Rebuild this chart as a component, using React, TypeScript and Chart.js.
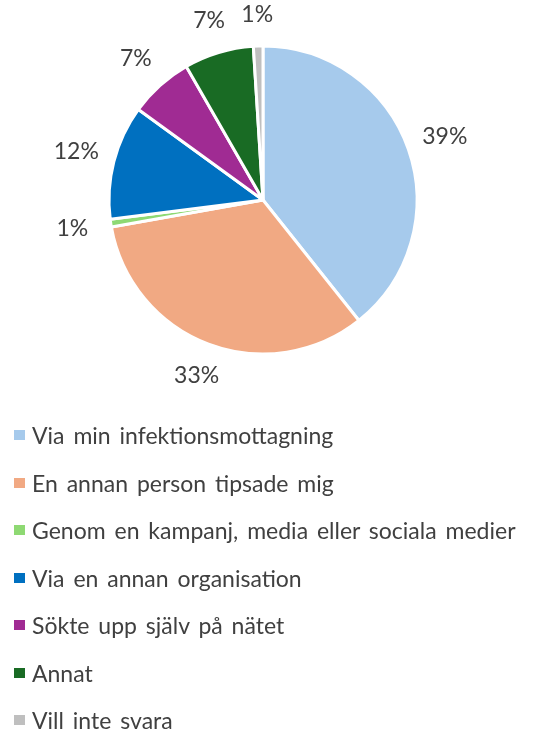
import React, { useEffect, useRef } from "react";
import { Chart, registerables } from "chart.js";

Chart.register(...registerables);

const categories = [
  "Via min infektionsmottagning",
  "En annan person tipsade mig",
  "Genom en kampanj, media eller sociala medier",
  "Via en annan organisation",
  "Sökte upp själv på nätet",
  "Annat",
  "Vill inte svara",
];
const values = [39.3, 32.9, 0.8, 12.0, 6.7, 7.3, 1.0];
const valueLabels = ["39%", "33%", "1%", "12%", "7%", "7%", "1%"];
const colors = ["#A6CAEC", "#F1A983", "#8ED973", "#0070C0", "#A02B93", "#196B24", "#BFBFBF"];

const FONT = "Lato, 'Open Sans', sans-serif";
const TEXT = "#404040";

const labelPlugin = {
  id: "outsideLabels",
  afterDatasetsDraw(chart: any) {
    const ctx = chart.ctx;
    const meta = chart.getDatasetMeta(0);
    ctx.save();
    ctx.font = `23px ${FONT}`;
    ctx.fillStyle = TEXT;
    ctx.textAlign = "center";
    ctx.textBaseline = "middle";
    meta.data.forEach((arc: any, i: number) => {
      const p = arc.getProps(["x", "y", "startAngle", "endAngle", "outerRadius"], true);
      const mid = (p.startAngle + p.endAngle) / 2;
      const r = p.outerRadius + 31 + 8 * Math.abs(Math.cos(mid));
      ctx.fillText(valueLabels[i], p.x + Math.cos(mid) * r, p.y + Math.sin(mid) * r);
    });
    ctx.restore();
  },
};

export default function App() {
  const ref = useRef<HTMLCanvasElement>(null);
  useEffect(() => {
    if (!ref.current) return;
    const chart = new Chart(ref.current, {
      type: "pie",
      data: {
        labels: categories,
        datasets: [
          {
            data: values,
            backgroundColor: colors,
            borderColor: "#FFFFFF",
            borderWidth: 3,
            radius: 154,
          },
        ],
      },
      options: {
        animation: false,
        responsive: false,
        layout: { padding: { top: 40, bottom: 375, left: 103, right: 117 } },
        plugins: { legend: { display: false }, tooltip: { enabled: false } },
      },
      plugins: [labelPlugin],
    });
    return () => chart.destroy();
  }, []);

  return (
    <div style={{ position: "absolute", left: 0, top: 0, width: 540, height: 735, background: "#fff", overflow: "hidden" }}>
      <canvas ref={ref} width={540} height={735} style={{ position: "absolute", left: 0, top: 0 }} />
      {categories.map((c, i) => (
        <div
          key={c}
          style={{
            position: "absolute",
            left: 14,
            top: 435 + i * 47.5 - 15,
            height: 30,
            display: "flex",
            alignItems: "center",
            fontFamily: FONT,
            fontSize: 23,
            wordSpacing: 3,
            color: TEXT,
            whiteSpace: "nowrap",
          }}
        >
          <span style={{ display: "inline-block", width: 11, height: 10, background: colors[i], marginRight: 7 }} />
          <span>{c}</span>
        </div>
      ))}
    </div>
  );
}
